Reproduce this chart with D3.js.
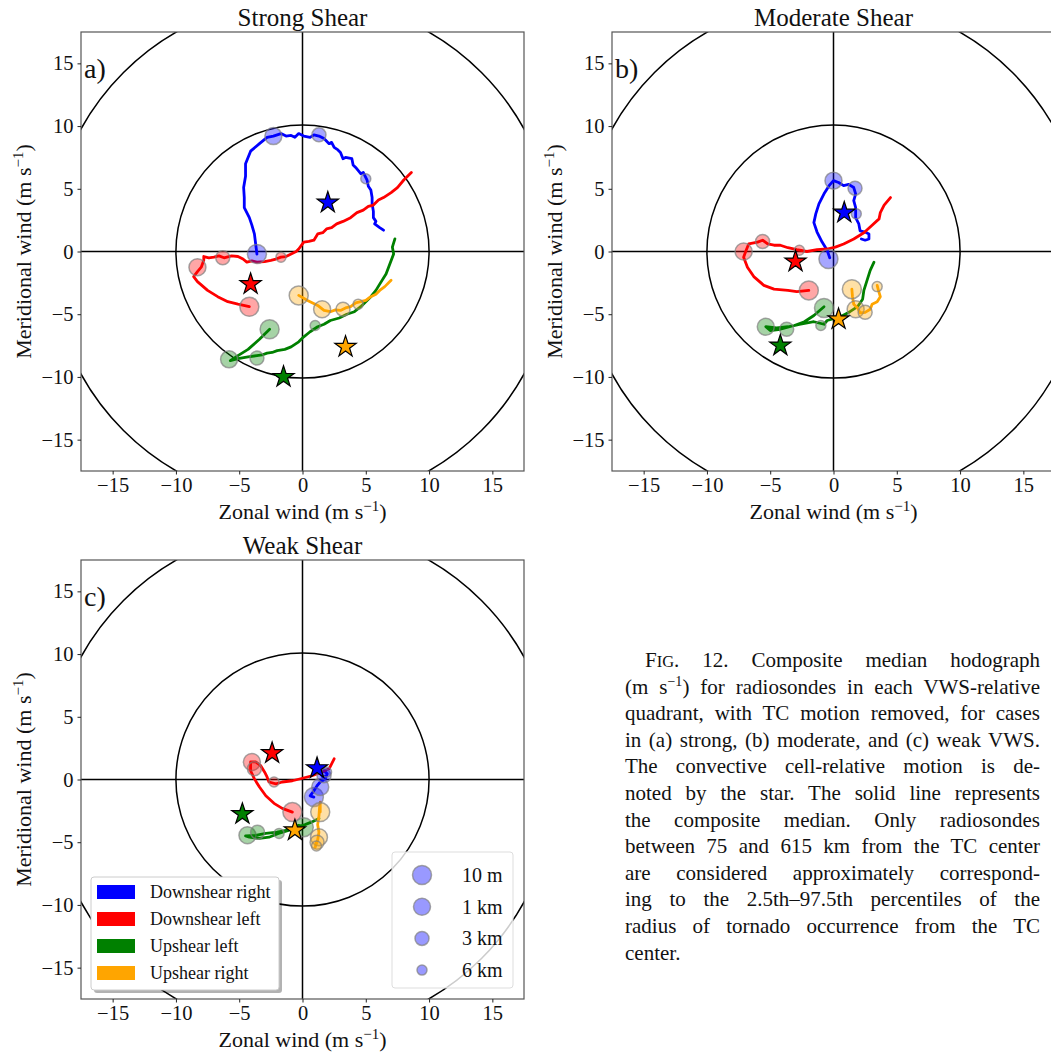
<!DOCTYPE html>
<html>
<head>
<meta charset="utf-8">
<script src="https://cdn.jsdelivr.net/npm/d3@7"></script>
<style>
  body { margin: 0; background: #fff; }
  svg text { fill: #111; }
</style>
</head>
<body>
<svg id="fig" width="1051" height="1056" font-family="'Liberation Serif', serif"></svg>
<script>
const FONT = "'Liberation Serif', serif";
// tick values and categories
const ticks = [-15, -10, -5, 0, 5, 10, 15];
const quadrants = ["Downshear right", "Downshear left", "Upshear left", "Upshear right"];
const quadColors = ["#0000ff", "#ff0000", "#008000", "#ffa500"];
const heightLabels = ["10 m", "1 km", "3 km", "6 km"];
const ringRadii = [10, 20];

// ---- Strong shear (u, v in m/s)
const strongDR = [[-3.6,-0.2],[-3.7,0.6],[-3.8,1.4],[-4.0,2.1],[-4.2,2.7],[-4.6,3.5],[-4.6,4.3],[-4.65,5.1],[-4.5,6.0],[-4.5,7.0],[-4.3,7.5],[-4.1,8.0],[-3.4,8.6],[-2.8,9.1],[-2.3,9.2],[-1.7,9.4],[-1.3,9.2],[-0.9,9.25],[-0.6,9.1],[-0.3,9.4],[0.1,9.2],[0.6,9.1],[0.9,9.3],[1.3,9.2],[1.7,9.0],[2.1,8.6],[2.3,8.7],[2.5,8.3],[2.8,8.1],[3.0,7.9],[3.2,7.4],[3.4,7.5],[3.9,7.4],[4.0,6.9],[4.2,6.7],[4.6,6.2],[4.8,6.3],[5.1,5.7],[5.2,5.2],[5.4,4.9],[5.5,4.3],[5.5,3.8],[5.6,3.2],[5.6,2.7],[5.8,2.4],[5.7,2.2],[6.1,1.9],[6.4,1.7]];
const strongDL = [[-4.2,-4.4],[-5.1,-4.2],[-5.9,-4.0],[-6.7,-3.6],[-7.5,-3.1],[-8.3,-2.4],[-8.6,-2.0],[-8.3,-1.6],[-8.0,-1.25],[-7.8,-0.7],[-7.8,-0.4],[-7.4,-0.5],[-7.0,-0.45],[-6.6,-0.35],[-6.2,-0.5],[-5.6,-0.35],[-5.1,-0.4],[-4.7,-0.6],[-4.4,-0.85],[-4.0,-0.75],[-3.6,-0.85],[-3.0,-0.8],[-2.5,-0.7],[-2.1,-0.6],[-1.7,-0.45],[-1.3,-0.4],[-0.9,-0.2],[-0.5,0.0],[-0.3,0.2],[0.1,0.75],[0.5,0.8],[0.9,0.9],[1.2,1.4],[1.6,1.5],[1.9,1.8],[2.3,1.9],[2.7,2.2],[3.2,2.4],[3.8,2.7],[4.3,3.1],[4.8,3.3],[5.2,3.6],[5.6,3.7],[6.0,4.1],[6.4,4.3],[7.0,4.7],[7.5,5.1],[8.0,5.7],[8.6,6.3]];
const strongUL = [[-2.6,-6.2],[-3.4,-7.0],[-4.3,-7.8],[-5.1,-8.3],[-5.7,-8.7],[-5.1,-8.55],[-4.3,-8.4],[-3.6,-8.3],[-3.2,-8.25],[-2.8,-8.1],[-2.4,-8.05],[-2.0,-7.9],[-1.4,-7.8],[-0.9,-7.6],[-0.3,-7.2],[0.1,-6.8],[0.6,-6.4],[1.2,-6.0],[1.7,-5.8],[2.2,-5.5],[2.9,-5.3],[3.5,-5.0],[4.1,-4.8],[4.6,-4.4],[5.0,-4.0],[5.4,-3.6],[5.8,-3.1],[6.1,-2.6],[6.6,-1.8],[6.9,-1.0],[7.2,-0.2],[7.1,0.35],[7.3,1.0]];
const strongUR = [[-0.3,-3.5],[0.4,-3.9],[1.2,-4.3],[1.7,-4.7],[2.2,-4.8],[2.6,-4.65],[3.0,-4.7],[3.4,-4.5],[3.8,-4.4],[4.2,-4.1],[4.6,-4.0],[5.0,-3.9],[5.4,-3.6],[5.8,-3.4],[6.1,-3.1],[6.5,-2.8],[6.9,-2.4],[7.0,-2.3]];
const strongMarks = [
  [[-3.6,-0.2],[-2.3,9.2],[1.3,9.3],[5.0,5.8]],
  [[-4.2,-4.4],[-8.3,-1.25],[-6.3,-0.5],[-1.7,-0.45]],
  [[-2.6,-6.2],[-5.8,-8.6],[-3.6,-8.5],[1.0,-5.9]],
  [[-0.3,-3.5],[1.55,-4.6],[3.2,-4.6],[4.4,-4.2]]
];
const strongStars = [[2.0,3.9],[-4.1,-2.6],[-1.5,-10.0],[3.4,-7.6]];

// ---- Moderate shear
const modDR = [[-0.3,-0.5],[-0.5,0.1],[-0.9,0.75],[-1.3,1.55],[-1.55,2.3],[-1.4,3.0],[-1.15,3.8],[-0.75,4.6],[-0.35,5.25],[0.0,5.65],[0.4,5.5],[0.8,5.25],[1.2,5.35],[1.6,5.1],[1.75,4.6],[1.6,4.05],[1.75,3.5],[1.75,2.7],[2.0,2.2],[2.1,1.65],[2.5,1.55],[2.8,1.4],[2.8,1.0],[2.5,0.9],[2.2,1.0]];
const modDL = [[-1.95,-3.1],[-2.9,-3.2],[-3.6,-3.1],[-4.7,-3.0],[-5.5,-2.7],[-6.3,-2.0],[-6.8,-1.25],[-7.1,-0.45],[-6.9,0.1],[-6.7,0.6],[-6.0,0.75],[-5.6,0.9],[-5.2,0.6],[-4.7,0.5],[-4.2,0.5],[-3.6,0.3],[-2.9,0.15],[-2.1,0.0],[-1.3,0.15],[-0.5,0.2],[0.15,0.35],[0.8,0.6],[1.6,1.0],[2.4,1.5],[3.05,2.1],[3.6,2.6],[3.7,3.1],[4.0,3.7],[4.5,4.3]];
const modUL = [[-0.75,-4.4],[-1.55,-5.1],[-2.3,-5.6],[-3.1,-5.9],[-4.2,-6.2],[-5.0,-6.3],[-5.35,-6.0],[-4.5,-6.1],[-3.6,-6.0],[-2.6,-5.8],[-1.55,-5.6],[-0.75,-5.8],[-0.5,-5.5],[0.55,-5.2],[1.3,-4.8],[1.9,-4.4],[2.3,-3.8],[2.4,-3.1],[2.65,-2.3],[2.9,-1.5],[3.2,-0.85]];
const modUR = [[1.45,-3.0],[1.5,-3.6],[1.6,-4.2],[1.9,-4.5],[2.1,-4.9],[2.5,-4.85],[2.9,-4.6],[3.05,-4.2],[3.45,-4.0],[3.7,-3.6],[3.55,-3.1],[3.45,-2.7]];
const modMarks = [
  [[-0.4,-0.6],[0.0,5.65],[1.7,5.05],[1.8,3.0]],
  [[-1.95,-3.1],[-7.1,0.0],[-5.6,0.8],[-2.7,0.1]],
  [[-0.75,-4.5],[-5.35,-6.0],[-3.7,-6.2],[-1.0,-5.9]],
  [[1.45,-3.0],[1.75,-4.6],[2.5,-4.85],[3.45,-2.8]]
];
const modStars = [[0.85,3.1],[-3.0,-0.8],[-4.2,-7.5],[0.4,-5.4]];

// ---- Weak shear
const weakDR = [[0.9,-1.4],[0.6,-1.3],[0.9,-0.9],[1.15,-0.5],[1.4,-0.2],[1.8,0.05],[1.95,0.45],[1.7,0.7],[1.4,0.5],[1.6,0.2],[1.9,0.3]];
const weakDL = [[-0.8,-2.6],[-1.6,-2.3],[-2.25,-1.9],[-2.9,-1.3],[-3.4,-0.6],[-3.8,0.05],[-4.1,0.7],[-4.1,1.4],[-3.7,1.4],[-3.3,1.1],[-3.0,0.6],[-2.8,0.2],[-2.65,-0.2],[-2.1,-0.35],[-1.6,-0.2],[-0.8,-0.1],[0.0,0.1],[0.75,0.3],[1.55,0.6],[2.1,0.85],[2.3,1.25],[2.5,1.65]];
const weakUL = [[0.1,-3.8],[-0.3,-3.65],[-1.1,-4.05],[-1.9,-4.3],[-2.65,-4.6],[-3.4,-4.7],[-4.2,-4.6],[-4.5,-4.5],[-3.7,-4.45],[-2.9,-4.3],[-2.0,-4.2],[-1.0,-4.0],[0.2,-3.6],[0.7,-3.4],[1.3,-3.1]];
const weakUR = [[1.4,-2.6],[1.4,-1.8],[1.35,-2.2],[1.3,-2.9],[1.2,-3.6],[1.3,-4.2],[1.2,-4.8],[1.0,-5.4],[1.1,-5.0]];
const weakMarks = [
  [[0.9,-1.4],[1.4,-0.6],[1.7,0.3],[1.9,0.6]],
  [[-0.8,-2.6],[-4.0,1.4],[-3.8,0.85],[-2.25,-0.2]],
  [[0.1,-3.8],[-4.35,-4.45],[-3.55,-4.2],[-1.85,-4.3]],
  [[1.4,-2.6],[1.3,-4.6],[1.15,-5.0],[1.1,-5.3]]
];
const weakStars = [[1.15,0.9],[-2.4,2.1],[-4.75,-2.75],[-0.6,-4.05]];

const captionLines = [
  "Composite median hodograph",
  ") for radiosondes in each VWS-relative",
  "quadrant, with TC motion removed, for cases",
  "in (a) strong, (b) moderate, and (c) weak VWS.",
  "The convective cell-relative motion is de-",
  "noted by the star. The solid line represents",
  "the composite median. Only radiosondes",
  "between 75 and 615 km from the TC center",
  "are considered approximately correspond-",
  "ing to the 2.5th\u201397.5th percentiles of the",
  "radius of tornado occurrence from the TC",
  "center."
];

const markerR = [9.5, 8.5, 7, 5];
const W = 443, H = 439;
const svg = d3.select("#fig");
svg.append("rect").attr("width", 1051).attr("height", 1056).attr("fill", "#fff");

const fmt = d => d < 0 ? "\u2212" + Math.abs(d) : String(d);

function panel(id, left, top, title, letter, lines, marks, stars) {
  const x = d3.scaleLinear().domain([-17.5, 17.5]).range([0, W]);
  const y = d3.scaleLinear().domain([-17.5, 17.5]).range([H, 0]);
  const g = svg.append("g").attr("transform", `translate(${left},${top})`);

  svg.append("clipPath").attr("id", "clip" + id)
    .append("rect").attr("width", W).attr("height", H);
  const plot = g.append("g").attr("clip-path", `url(#clip${id})`);

  // rings and zero lines
  ringRadii.forEach(r => {
    plot.append("circle").attr("cx", x(0)).attr("cy", y(0))
      .attr("r", x(r) - x(0)).attr("fill", "none")
      .attr("stroke", "#000").attr("stroke-width", 1.5);
  });
  plot.append("line").attr("x1", 0).attr("x2", W).attr("y1", y(0)).attr("y2", y(0))
    .attr("stroke", "#000").attr("stroke-width", 1.5);
  plot.append("line").attr("y1", 0).attr("y2", H).attr("x1", x(0)).attr("x2", x(0))
    .attr("stroke", "#000").attr("stroke-width", 1.5);

  const line = d3.line().x(d => x(d[0])).y(d => y(d[1]));
  lines.forEach((pts, i) => {
    plot.append("path").datum(pts).attr("d", line)
      .attr("fill", "none").attr("stroke", quadColors[i])
      .attr("stroke-width", 2.8).attr("stroke-linejoin", "round").attr("stroke-linecap", "round");
  });

  marks.forEach((pts, i) => {
    plot.selectAll(null).data(pts).enter().append("circle")
      .attr("cx", d => x(d[0])).attr("cy", d => y(d[1]))
      .attr("r", (d, j) => markerR[j])
      .attr("fill", quadColors[i]).attr("fill-opacity", 0.35)
      .attr("stroke", "#808080").attr("stroke-opacity", 0.7).attr("stroke-width", 1.5);
  });

  const star = d3.symbol(d3.symbolStar).size(140);
  plot.selectAll(null).data(stars).enter().append("path")
    .attr("d", star)
    .attr("transform", d => `translate(${x(d[0])},${y(d[1])})`)
    .attr("fill", (d, i) => quadColors[i])
    .attr("stroke", "#000").attr("stroke-width", 1.2);

  // frame and axes
  g.append("rect").attr("width", W).attr("height", H)
    .attr("fill", "none").attr("stroke", "#555").attr("stroke-width", 1.2);

  const xa = g.append("g").attr("transform", `translate(0,${H})`)
    .call(d3.axisBottom(x).tickValues(ticks).tickSize(3.5).tickPadding(4).tickFormat(fmt));
  const ya = g.append("g")
    .call(d3.axisLeft(y).tickValues(ticks).tickSize(3.5).tickPadding(4).tickFormat(fmt));
  [xa, ya].forEach(a => {
    a.attr("font-family", FONT).attr("font-size", 20.5);
    a.select(".domain").remove();
    a.selectAll("line").attr("stroke", "#222");
    a.selectAll("text").attr("fill", "#111");
  });
  xa.selectAll("text").attr("dy", "0.68em");

  // labels
  const xl = g.append("text").attr("x", W / 2).attr("y", H + 48)
    .attr("text-anchor", "middle").attr("font-size", 22);
  xl.append("tspan").text("Zonal wind (m s");
  xl.append("tspan").attr("dy", -8).attr("font-size", 15).text("\u22121");
  xl.append("tspan").attr("dy", 8).text(")");

  const yl = g.append("text").attr("transform", `translate(-50,${H / 2}) rotate(-90)`)
    .attr("text-anchor", "middle").attr("font-size", 22);
  yl.append("tspan").text("Meridional wind (m s");
  yl.append("tspan").attr("dy", -8).attr("font-size", 15).text("\u22121");
  yl.append("tspan").attr("dy", 8).text(")");

  g.append("text").attr("x", W / 2).attr("y", -6).attr("text-anchor", "middle")
    .attr("font-size", 25).text(title);
  g.append("text").attr("x", 3).attr("y", 46).attr("font-size", 28).text(letter);
  return g;
}

panel("a", 81, 32, "Strong Shear", "a)", [strongDR, strongDL, strongUL, strongUR], strongMarks, strongStars);
panel("b", 612, 32, "Moderate Shear", "b)", [modDR, modDL, modUL, modUR], modMarks, modStars);
const gc = panel("c", 81, 560, "Weak Shear", "c)", [weakDR, weakDL, weakUL, weakUR], weakMarks, weakStars);

// quadrant legend (with shadow)
const l1 = gc.append("g").attr("transform", "translate(10,317)");
l1.append("rect").attr("x", 3).attr("y", 3).attr("width", 188).attr("height", 113).attr("rx", 3)
  .attr("fill", "#000").attr("fill-opacity", 0.3);
l1.append("rect").attr("width", 188).attr("height", 113).attr("rx", 3)
  .attr("fill", "#fff").attr("stroke", "#ccc").attr("stroke-width", 1);
quadrants.forEach((q, i) => {
  l1.append("rect").attr("x", 6).attr("y", 8 + i * 27).attr("width", 38).attr("height", 14)
    .attr("fill", quadColors[i]);
  l1.append("text").attr("x", 59).attr("y", 21 + i * 27).attr("font-size", 18).text(q);
});

// height legend
const l2 = gc.append("g").attr("transform", "translate(311,292)");
l2.append("rect").attr("width", 121).attr("height", 136).attr("rx", 3)
  .attr("fill", "#fff").attr("fill-opacity", 0.8).attr("stroke", "#ddd").attr("stroke-width", 1);
heightLabels.forEach((h, i) => {
  l2.append("circle").attr("cx", 30).attr("cy", 23 + i * 31.7).attr("r", markerR[i])
    .attr("fill", "#0000ff").attr("fill-opacity", 0.4)
    .attr("stroke", "#808080").attr("stroke-opacity", 0.7).attr("stroke-width", 1.5);
  l2.append("text").attr("x", 70).attr("y", 30 + i * 31.7).attr("font-size", 20).text(h);
});

// caption, justified by word spacing
const capLeft = 625, capRight = 1040, capTop = 667, lh = 26.6;
captionLines.forEach((ln, i) => {
  const t = svg.append("text").attr("y", capTop + i * lh).attr("font-size", 21);
  let x0 = capLeft;
  if (i === 0) {
    x0 = 645;
    t.append("tspan").text("F");
    t.append("tspan").attr("font-size", 16.5).text("IG");
    t.append("tspan").text(". 12. " + ln);
  } else if (i === 1) {
    t.append("tspan").text("(m s");
    t.append("tspan").attr("dy", -8).attr("font-size", 14).text("\u22121");
    t.append("tspan").attr("dy", 8).text(ln);
  } else {
    t.text(ln);
  }
  t.attr("x", x0);
  if (i < captionLines.length - 1) {
    const full = t.node().getComputedTextLength();
    const spaces = (t.text().match(/ /g) || []).length;
    if (spaces > 0) t.attr("word-spacing", (capRight - x0 - full) / spaces);
  }
});
</script>
</body>
</html>
